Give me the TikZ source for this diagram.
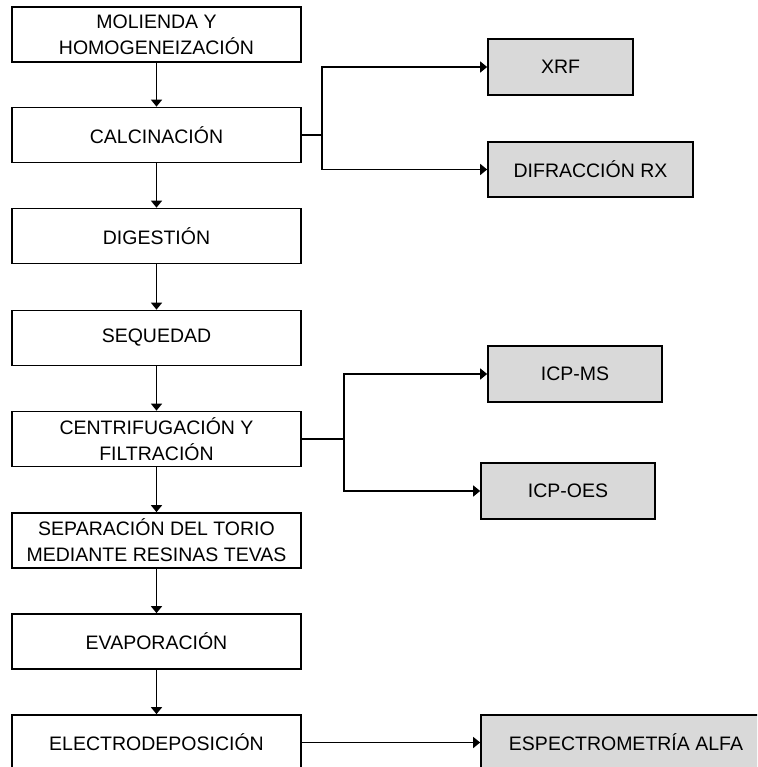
\documentclass[tikz,border=0pt]{standalone}
\usepackage{fontspec}
\setmainfont{Liberation Sans}
\usetikzlibrary{arrows.meta}
\definecolor{measgray}{HTML}{D9D9D9}
\begin{document}
\begin{tikzpicture}[x=1pt,y=-1pt,
  proc/.style={draw=black, line width=1.7pt, fill=white, minimum width=289pt,
    minimum height=55pt, inner sep=0pt, align=center,
    font=\fontsize{19.5}{26}\selectfont},
  meas/.style={proc, fill=measgray},
  conn/.style={line width=1.5pt, -{Triangle[length=7pt,width=11pt]}},
  link/.style={line width=1.5pt}]
\useasboundingbox (0,0) rectangle (757,767);
\clip (0,0) rectangle (757,767);
% main column
\node[proc] (mol)  at (156.5,34.5)  {MOLIENDA Y\\HOMOGENEIZACIÓN};
\node[proc] (calc) at (156.5,135)   {CALCINACIÓN};
\node[proc] (dig)  at (156.5,236)   {DIGESTIÓN};
\node[proc] (seq)  at (156.5,338)   {SEQUEDAD};
\node[proc] (cen)  at (156.5,439)   {CENTRIFUGACIÓN Y\\FILTRACIÓN};
\node[proc] (sep)  at (156.5,540.5) {SEPARACIÓN DEL TORIO\\MEDIANTE RESINAS TEVAS};
\node[proc] (eva)  at (156.5,641.5) {EVAPORACIÓN};
\node[proc] (ele)  at (156.5,742.5) {ELECTRODEPOSICIÓN};
% measurement boxes
\node[meas, minimum width=145pt, minimum height=56pt] (xrf)    at (560.5,67)   {XRF};
\node[meas, minimum width=205pt] (dif)    at (590.5,169.5) {DIFRACCIÓN RX};
\node[meas, minimum width=174pt, minimum height=56pt] (icpms)  at (575,374)    {ICP-MS};
\node[meas, minimum width=174pt, minimum height=56pt] (icpoes) at (568,491)    {ICP-OES};
\node[meas, minimum width=290pt] (esp)    at (626,742.5)  {ESPECTROMETRÍA ALFA};
% main flow
\draw[conn] (mol) -- (calc);
\draw[conn] (calc) -- (dig);
\draw[conn] (dig) -- (seq);
\draw[conn] (seq) -- (cen);
\draw[conn] (cen) -- (sep);
\draw[conn] (sep) -- (eva);
\draw[conn] (eva) -- (ele);
% branches
\coordinate (j1) at (322,135);
\draw[conn] (calc.east) -- (j1) |- (xrf.west);
\draw[conn] (j1) |- (dif.west);
\coordinate (j2) at (344,439);
\draw[conn] (cen.east) -- (j2) |- (icpms.west);
\draw[conn] (j2) |- (icpoes.west);
\draw[conn] (ele) -- (esp);
\end{tikzpicture}
\end{document}
